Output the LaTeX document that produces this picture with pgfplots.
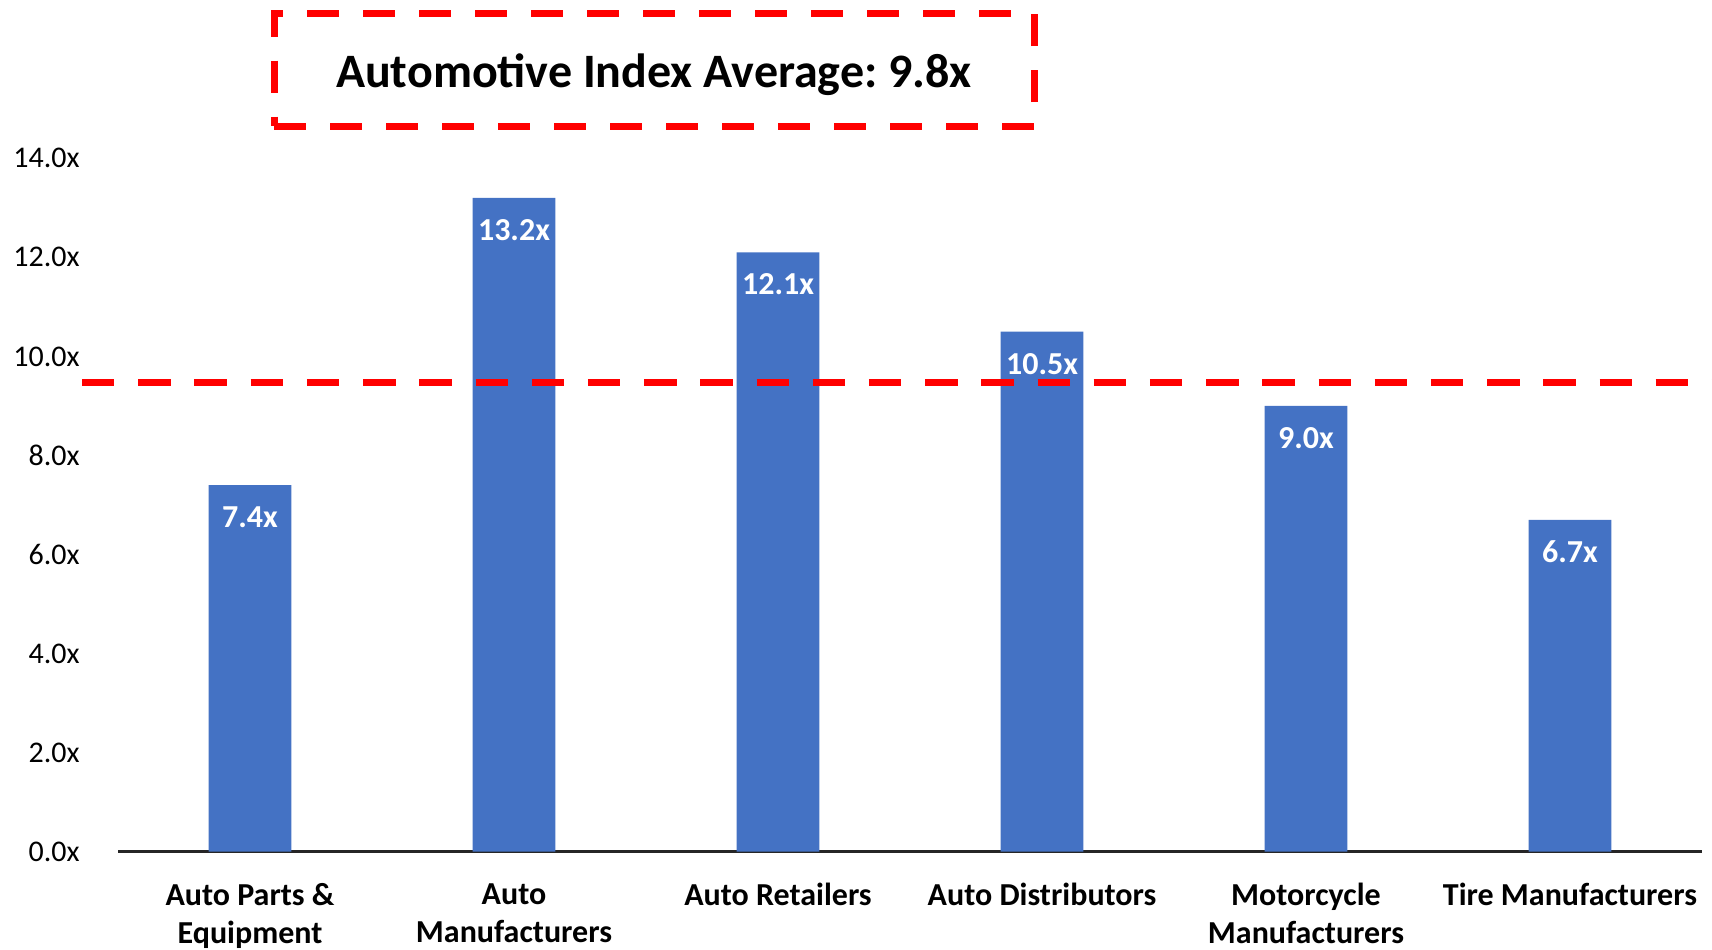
\documentclass[border=0pt]{standalone}
\usepackage{fontspec}
\setmainfont{Carlito}
\usepackage{pgfplots}
\pgfplotsset{compat=1.18}
\definecolor{barblue}{HTML}{4472C4}
\frenchspacing
\begin{document}
\begin{tikzpicture}[x=1pt,y=1pt]
\path[use as bounding box] (0,0) rectangle (856,474.5);
\begin{axis}[
  at={(59pt,48.7pt)}, anchor=south west,
  scale only axis, width=792pt, height=346.65pt,
  xmin=-0.5, xmax=5.5, ymin=0, ymax=14,
  clip=false,
  axis x line*=bottom, axis y line*=left,
  x axis line style={line width=1.2pt, black!85},
  y axis line style={draw=none},
  major tick style={draw=none},
  xtick={0,1,2,3,4,5},
  xticklabels={{Auto Parts \&\\Equipment},{Auto\\Manufacturers},{Auto Retailers},{Auto Distributors},{Motorcycle\\Manufacturers},{Tire Manufacturers}},
  ytick={0,2,4,6,8,10,12,14},
  yticklabel={\pgfmathprintnumber[fixed,fixed zerofill,precision=1,assume math mode=true]{\tick}x},
  yticklabel style={anchor=east, inner sep=0pt, xshift=-19pt, font=\fontsize{15}{18}\selectfont},
  xticklabel style={anchor=north, inner sep=0pt, yshift=-15.7pt, align=center, font=\bfseries\fontsize{16}{19}\selectfont},
]
\addplot[ybar, bar width=41.4pt, fill=barblue, draw=none,
  nodes near coords={\pgfmathprintnumber[fixed,fixed zerofill,precision=1,assume math mode=true]{\pgfplotspointmeta}x},
  every node near coord/.append style={anchor=center, yshift=-16pt, text=white, font=\bfseries\fontsize{16}{19}\selectfont}]
  coordinates {(0,7.4) (1,13.2) (2,12.1) (3,10.5) (4,9.0) (5,6.7)};
\addplot[red, line width=3.6pt, dash pattern=on 16.2pt off 11.9pt, forget plot]
  coordinates {(-0.636,9.48) (5.54,9.48)};
\end{axis}
\node[draw=red, line width=3.5pt, dash pattern=on 16pt off 12pt, minimum width=380pt, minimum height=56.35pt, inner sep=0pt] at (327,439.65) {};
\node[inner sep=0pt, font=\bfseries\fontsize{24}{29}\selectfont] at (327,437) {Automotive Index Average: 9.8x};
\end{tikzpicture}
\end{document}
